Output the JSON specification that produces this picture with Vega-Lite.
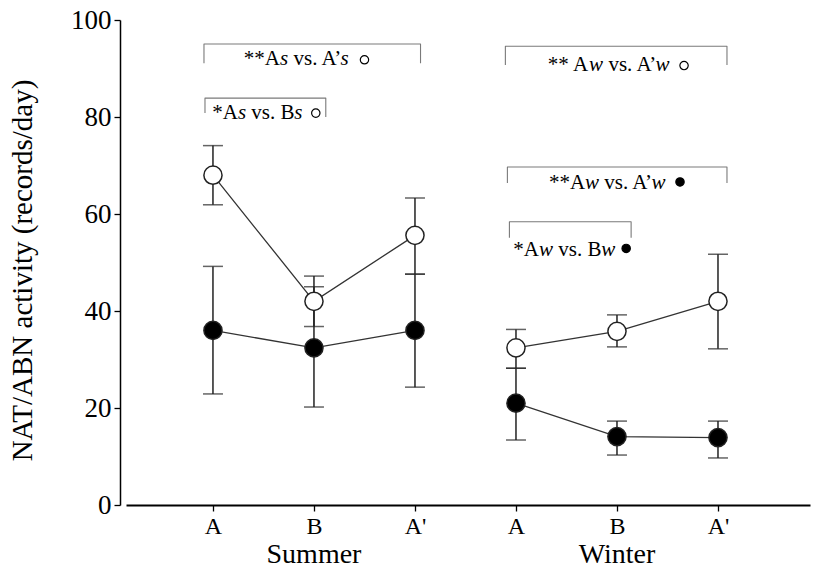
{
  "$schema": "https://vega.github.io/schema/vega-lite/v6.json",
  "width": 684,
  "height": 485,
  "autosize": {"type": "none"},
  "padding": {"left": 126, "top": 20, "right": 3, "bottom": 71},
  "background": "white",
  "config": {"view": {"stroke": null}},
  "datasets": {
    "pts": [
      {"x": 1, "grp": "S-open", "series": "open", "y": 68.0, "lo": 61.9, "hi": 74.1},
      {"x": 2, "grp": "S-open", "series": "open", "y": 42.0, "lo": 36.8, "hi": 47.2},
      {"x": 3, "grp": "S-open", "series": "open", "y": 55.6, "lo": 47.6, "hi": 63.3},
      {"x": 4, "grp": "W-open", "series": "open", "y": 32.4, "lo": 28.2, "hi": 36.2},
      {"x": 5, "grp": "W-open", "series": "open", "y": 35.8, "lo": 32.6, "hi": 39.2},
      {"x": 6, "grp": "W-open", "series": "open", "y": 42.0, "lo": 32.2, "hi": 51.7},
      {"x": 1, "grp": "S-filled", "series": "filled", "y": 36.0, "lo": 22.9, "hi": 49.2},
      {"x": 2, "grp": "S-filled", "series": "filled", "y": 32.4, "lo": 20.2, "hi": 45.0},
      {"x": 3, "grp": "S-filled", "series": "filled", "y": 36.0, "lo": 24.3, "hi": 47.6},
      {"x": 4, "grp": "W-filled", "series": "filled", "y": 21.0, "lo": 13.4, "hi": 28.2},
      {"x": 5, "grp": "W-filled", "series": "filled", "y": 14.1, "lo": 10.3, "hi": 17.3},
      {"x": 6, "grp": "W-filled", "series": "filled", "y": 13.9, "lo": 9.7, "hi": 17.3}
    ],
    "brk": [
      {"id": "s1", "o": 1, "x": 0.911, "y": 91.1},
      {"id": "s1", "o": 2, "x": 0.911, "y": 95.05},
      {"id": "s1", "o": 3, "x": 3.055, "y": 95.05},
      {"id": "s1", "o": 4, "x": 3.055, "y": 91.1},
      {"id": "s2", "o": 1, "x": 0.921, "y": 80.8},
      {"id": "s2", "o": 2, "x": 0.921, "y": 83.9},
      {"id": "s2", "o": 3, "x": 2.117, "y": 83.9},
      {"id": "s2", "o": 4, "x": 2.117, "y": 80.0},
      {"id": "w1", "o": 1, "x": 3.895, "y": 90.7},
      {"id": "w1", "o": 2, "x": 3.895, "y": 94.6},
      {"id": "w1", "o": 3, "x": 6.089, "y": 94.6},
      {"id": "w1", "o": 4, "x": 6.089, "y": 90.7},
      {"id": "w2", "o": 1, "x": 3.915, "y": 66.4},
      {"id": "w2", "o": 2, "x": 3.915, "y": 69.7},
      {"id": "w2", "o": 3, "x": 6.089, "y": 69.7},
      {"id": "w2", "o": 4, "x": 6.089, "y": 66.4},
      {"id": "w3", "o": 1, "x": 3.935, "y": 55.1},
      {"id": "w3", "o": 2, "x": 3.935, "y": 58.4},
      {"id": "w3", "o": 3, "x": 5.14, "y": 58.4},
      {"id": "w3", "o": 4, "x": 5.14, "y": 55.1}
    ],
    "txtN": [
      {"x": 1.306, "y": 90.7, "t": "**A"},
      {"x": 1.797, "y": 90.7, "t": "vs. A’"},
      {"x": 0.993, "y": 79.6, "t": "*A"},
      {"x": 1.380, "y": 79.6, "t": "vs. B"},
      {"x": 4.315, "y": 89.5, "t": "** A"},
      {"x": 4.915, "y": 89.5, "t": "vs. A’"},
      {"x": 4.326, "y": 65.2, "t": "**A"},
      {"x": 4.874, "y": 65.2, "t": "vs. A’"},
      {"x": 3.974, "y": 51.3, "t": "*A"},
      {"x": 4.419, "y": 51.3, "t": "vs. B"}
    ],
    "txtI": [
      {"x": 1.664, "y": 90.7, "t": "s"},
      {"x": 2.262, "y": 90.7, "t": "s"},
      {"x": 1.247, "y": 79.6, "t": "s"},
      {"x": 1.806, "y": 79.6, "t": "s"},
      {"x": 4.724, "y": 89.5, "t": "w"},
      {"x": 5.382, "y": 89.5, "t": "w"},
      {"x": 4.684, "y": 65.2, "t": "w"},
      {"x": 5.341, "y": 65.2, "t": "w"},
      {"x": 4.228, "y": 51.3, "t": "w"},
      {"x": 4.845, "y": 51.3, "t": "w"}
    ],
    "sym": [
      {"x": 2.500, "y": 91.8, "series": "open"},
      {"x": 2.018, "y": 80.8, "series": "open"},
      {"x": 5.664, "y": 90.6, "series": "open"},
      {"x": 5.624, "y": 66.6, "series": "filled"},
      {"x": 5.091, "y": 52.9, "series": "filled"}
    ],
    "sea": [
      {"x": 2, "y": -10.4, "t": "Summer"},
      {"x": 5, "y": -10.4, "t": "Winter"}
    ]
  },
  "layer": [
    {
      "data": {"name": "brk"},
      "mark": {"type": "line", "color": "#7a7a7a", "strokeWidth": 1.1, "strokeJoin": "round"},
      "encoding": {
        "x": {
          "field": "x", "type": "quantitative",
          "scale": {"domain": [0.139, 6.911], "nice": false, "zero": false},
          "axis": {
            "title": null, "values": [1, 2, 3, 4, 5, 6],
            "labelExpr": "datum.value == 2 || datum.value == 5 ? 'B' : (datum.value == 3 || datum.value == 6 ? \"A'\" : 'A')",
            "labelFont": "Liberation Serif", "labelFontSize": 24, "labelColor": "black",
            "labelPadding": 3, "tickSize": 6, "tickColor": "black", "tickWidth": 1.3,
            "domainColor": "black", "domainWidth": 1.8, "grid": false
          }
        },
        "y": {
          "field": "y", "type": "quantitative",
          "scale": {"domain": [0, 100], "nice": false},
          "axis": {
            "title": "NAT/ABN activity (records/day)", "values": [0, 20, 40, 60, 80, 100],
            "labelFont": "Liberation Serif", "labelFontSize": 27, "labelColor": "black",
            "labelPadding": 3, "tickSize": 6, "tickColor": "black", "tickWidth": 1.3,
            "domainColor": "black", "domainWidth": 1.5, "grid": false, "offset": 6,
            "titleFont": "Liberation Serif", "titleFontSize": 29, "titleFontWeight": "normal",
            "titleColor": "black", "titlePadding": 33, "titleY": 250
          }
        },
        "detail": {"field": "id"},
        "order": {"field": "o"}
      }
    },
    {
      "data": {"name": "pts"},
      "mark": {"type": "rule", "color": "#222", "strokeWidth": 1.5},
      "encoding": {
        "x": {"field": "x", "type": "quantitative"},
        "y": {"field": "lo", "type": "quantitative"},
        "y2": {"field": "hi"}
      }
    },
    {
      "data": {"name": "pts"},
      "mark": {"type": "tick", "orient": "horizontal", "color": "#222", "size": 20, "thickness": 1.5},
      "encoding": {
        "x": {"field": "x", "type": "quantitative"},
        "y": {"field": "lo", "type": "quantitative"}
      }
    },
    {
      "data": {"name": "pts"},
      "mark": {"type": "tick", "orient": "horizontal", "color": "#222", "size": 20, "thickness": 1.5},
      "encoding": {
        "x": {"field": "x", "type": "quantitative"},
        "y": {"field": "hi", "type": "quantitative"}
      }
    },
    {
      "data": {"name": "pts"},
      "mark": {"type": "line", "color": "#333", "strokeWidth": 1.3},
      "encoding": {
        "x": {"field": "x", "type": "quantitative"},
        "y": {"field": "y", "type": "quantitative"},
        "detail": {"field": "grp"}
      }
    },
    {
      "data": {"name": "pts"},
      "mark": {"type": "point", "shape": "circle", "size": 330, "stroke": "#222", "strokeWidth": 1.5, "opacity": 1, "filled": true},
      "encoding": {
        "x": {"field": "x", "type": "quantitative"},
        "y": {"field": "y", "type": "quantitative"},
        "fill": {"field": "series", "type": "nominal", "scale": {"domain": ["open", "filled"], "range": ["white", "black"]}, "legend": null}
      }
    },
    {
      "data": {"name": "txtN"},
      "mark": {"type": "text", "align": "left", "baseline": "alphabetic", "font": "Liberation Serif", "fontSize": 21, "color": "black"},
      "encoding": {
        "x": {"field": "x", "type": "quantitative"},
        "y": {"field": "y", "type": "quantitative"},
        "text": {"field": "t"}
      }
    },
    {
      "data": {"name": "txtI"},
      "mark": {"type": "text", "align": "left", "baseline": "alphabetic", "font": "Liberation Serif", "fontStyle": "italic", "fontSize": 21, "color": "black"},
      "encoding": {
        "x": {"field": "x", "type": "quantitative"},
        "y": {"field": "y", "type": "quantitative"},
        "text": {"field": "t"}
      }
    },
    {
      "data": {"name": "sym"},
      "mark": {"type": "point", "shape": "circle", "size": 70, "stroke": "black", "strokeWidth": 1.2, "opacity": 1, "filled": true},
      "encoding": {
        "x": {"field": "x", "type": "quantitative"},
        "y": {"field": "y", "type": "quantitative"},
        "fill": {"field": "series", "type": "nominal", "scale": {"domain": ["open", "filled"], "range": ["white", "black"]}, "legend": null}
      }
    },
    {
      "data": {"name": "sea"},
      "mark": {"type": "text", "align": "center", "baseline": "middle", "font": "Liberation Serif", "fontSize": 28, "color": "black"},
      "encoding": {
        "x": {"field": "x", "type": "quantitative"},
        "y": {"field": "y", "type": "quantitative"},
        "text": {"field": "t"}
      }
    }
  ]
}
